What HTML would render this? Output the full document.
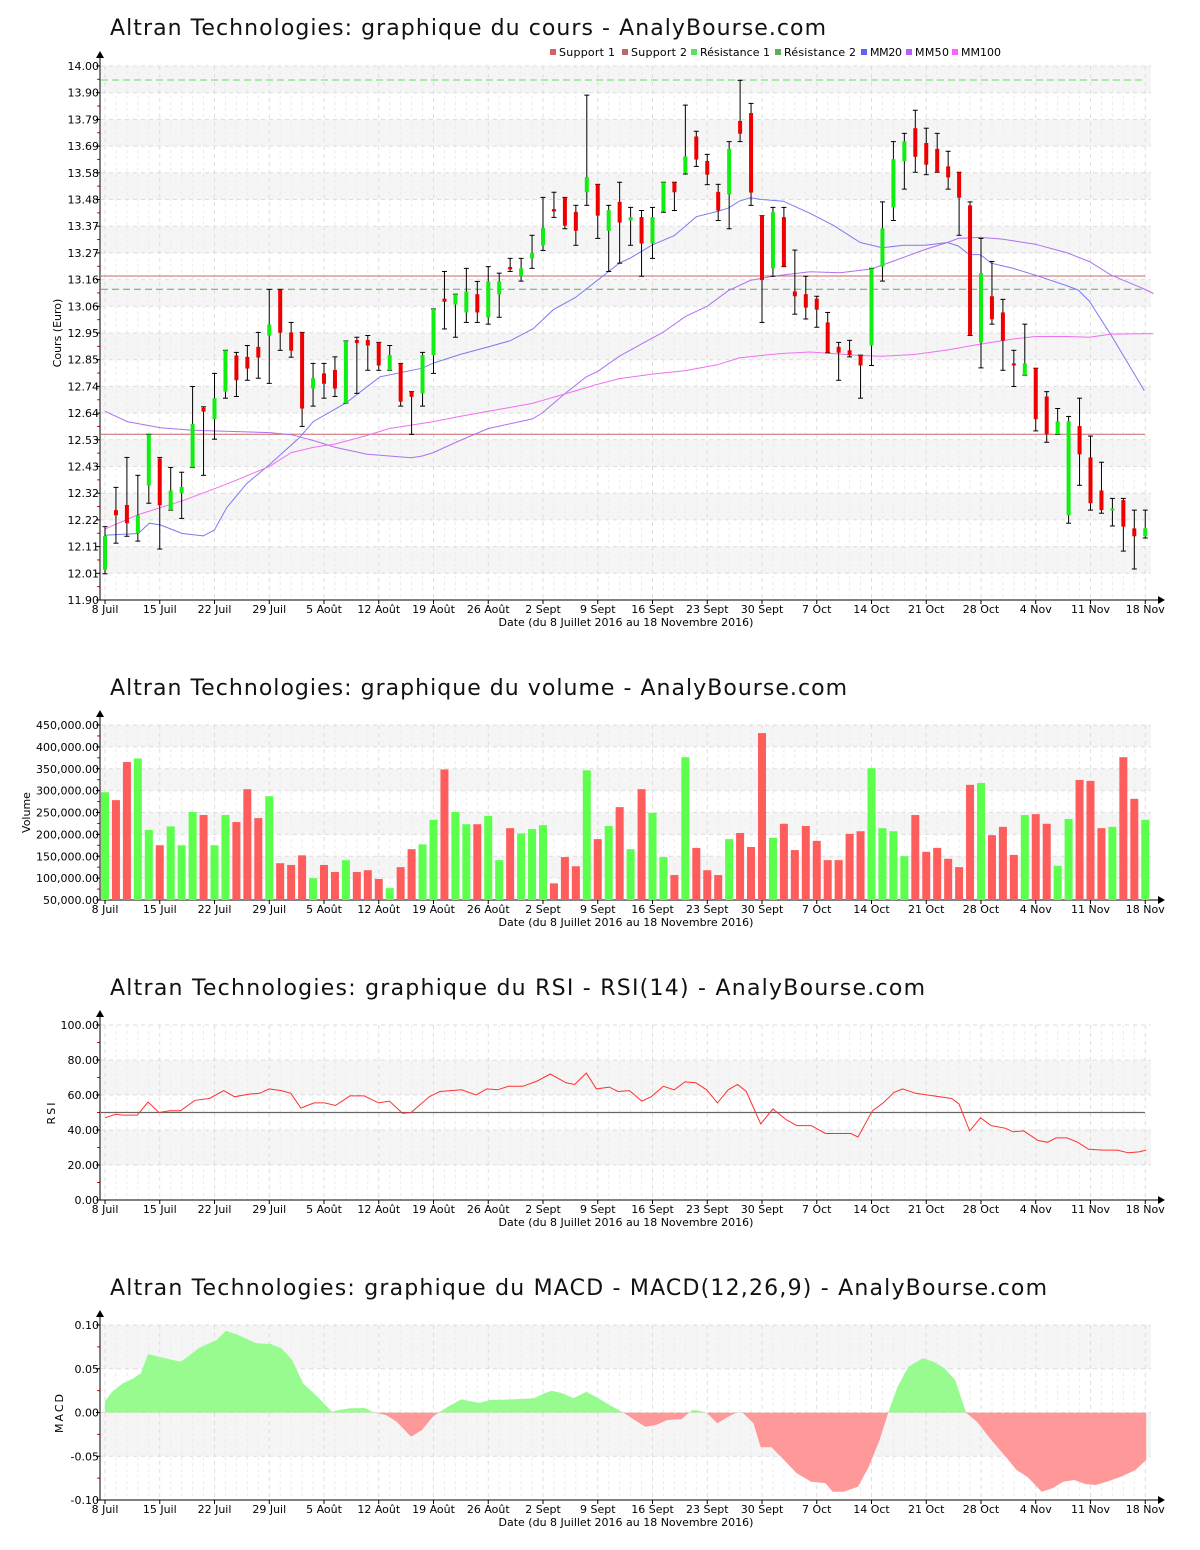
<!DOCTYPE html>
<html><head><meta charset="utf-8"><style>
body{margin:0;background:#fff;}
svg{display:block;font-family:"DejaVu Sans","Liberation Sans",sans-serif;}
</style></head><body>
<svg id="s" width="1200" height="1550" viewBox="0 0 1200 1550" xmlns="http://www.w3.org/2000/svg"></svg>
<script>
const S=document.getElementById('s');let h='';
const X=i=>105+i*10.95;
const weeks=['8 Juil','15 Juil','22 Juil','29 Juil','5 Août','12 Août','19 Août','26 Août','2 Sept','9 Sept','16 Sept','23 Sept','30 Sept','7 Oct','14 Oct','21 Oct','28 Oct','4 Nov','11 Nov','18 Nov'];
function frame(top,bot,labels,shadeFn,title,titleY,ylab,ylabX,tl){
  h+=`<text x="110" y="${titleY}" font-size="22" textLength="${tl}" fill="#111">${title}</text>`;
  const n=labels.length-1,step=(bot-top)/n;
  for(let k=0;k<n;k++){if(shadeFn(k))h+=`<rect x="101" y="${top+k*step}" width="1050" height="${step}" fill="#f5f5f5"/>`;}
  // minor vertical
  for(let i=0;i<96;i++){if(i%5)h+=`<line x1="${X(i)}" y1="${top}" x2="${X(i)}" y2="${bot}" stroke="#ececec" stroke-dasharray="3,3"/>`;}
  for(let k=0;k<20;k++){const x=105+k*54.75;h+=`<line x1="${x}" y1="${top}" x2="${x}" y2="${bot}" stroke="#ddd" stroke-dasharray="4,4"/>`;
    h+=`<line x1="${x}" y1="${bot}" x2="${x}" y2="${bot+4}" stroke="#000"/>`;
    h+=`<text x="${x}" y="${bot+13}" font-size="11" text-anchor="middle">${weeks[k]}</text>`;}
  for(let k=0;k<=n;k++){const y=top+k*step;h+=`<line x1="101" y1="${y}" x2="1151" y2="${y}" stroke="#ddd" stroke-dasharray="4,4"/>`;
    h+=`<line x1="96" y1="${y}" x2="100" y2="${y}" stroke="#000"/>`;
    h+=`<text x="99" y="${y+4}" font-size="11" text-anchor="end">${labels[k]}</text>`;
    if(k<n)h+=`<line x1="97" y1="${y+step/2}" x2="100" y2="${y+step/2}" stroke="#e00"/>`;}
  h+=`<line x1="100" y1="${top-8}" x2="100" y2="${bot}" stroke="#000"/><polygon points="96,${top-8} 104,${top-8} 100,${top-15}" fill="#000"/>`;
  h+=`<line x1="100" y1="${bot}" x2="1158" y2="${bot}" stroke="#000"/><polygon points="1158,${bot-4} 1158,${bot+4} 1165,${bot}" fill="#000"/>`;
  h+=`<text x="626" y="${bot+26}" font-size="11" text-anchor="middle">Date (du 8 Juillet 2016 au 18 Novembre 2016)</text>`;
  const cy=(top+bot)/2;h+=`<text x="${ylabX}" y="${cy}" font-size="11" text-anchor="middle" transform="rotate(-90 ${ylabX} ${cy})" letter-spacing="${ylab.length<5?2:0}">${ylab}</text>`;
}
// PRICE
const pl=['14.00','13.90','13.79','13.69','13.58','13.48','13.37','13.27','13.16','13.06','12.95','12.85','12.74','12.64','12.53','12.43','12.32','12.22','12.11','12.01','11.90'];
frame(66,600,pl,k=>k%2==0,'Altran Technologies: graphique du cours - AnalyBourse.com',35,'Cours (Euro)',61,716);
// legend
const lg=[[550,'#d96060','Support 1',56],[622,'#b86a6a','Support 2',56],[691,'#5fdf5f','Résistance 1',70],[775,'#5fae5f','Résistance 2',72],[861,'#6060ff','MM20',32],[906,'#b060ff','MM50',34],[952,'#ff60ff','MM100',40]];
lg.forEach(l=>{h+=`<rect x="${l[0]}" y="49" width="6" height="6" fill="${l[1]}"/><text x="${l[0]+9}" y="56" font-size="11" textLength="${l[3]}">${l[2]}</text>`;});
h+=`<line x1="101" y1="80" x2="1145" y2="80" stroke="#66dd66" stroke-dasharray="7,4"/>`;
h+=`<line x1="101" y1="289.3" x2="1145" y2="289.3" stroke="#66aa66" stroke-dasharray="7,4"/>`;
h+=`<line x1="101" y1="276" x2="1145" y2="276" stroke="#cc6666"/>`;
h+=`<line x1="101" y1="434.3" x2="1145" y2="434.3" stroke="#cc6666"/>`;
const zy=z=>60+z/2.9037;
function ma(parts,col){let p=[];parts.forEach(([ox,pts])=>pts.forEach(([a,b])=>p.push((ox+a/3).toFixed(1)+','+zy(b).toFixed(1))));h+=`<polyline points="${p.join(' ')}" fill="none" stroke="${col}" stroke-width="1"/>`;}
ma([[100,[[15,1380],[115,1375],[148,1345],[181,1350],[247,1375],[310,1382],[343,1365],[380,1300],[440,1230],[508,1175],[600,1095],[640,1050],[739,995],[840,920],[967,895],[1000,880],[1080,855]]],[450,[[115,833],[181,815],[250,780],[310,725],[376,690],[442,640],[508,590],[541,575],[607,537],[673,510],[739,455],[802,440],[835,430],[868,410],[901,400],[934,405],[1000,410],[1080,445]]],[800,[[100,480],[181,530],[247,545],[310,538],[376,538],[442,530],[475,540],[508,565],[541,565],[574,590],[640,605],[706,625],[800,655],[835,668],[868,700],[934,800],[1033,960]]]],'#7b7bf0');
ma([[100,[[15,1020],[82,1050],[181,1068],[277,1075],[376,1078],[508,1082],[574,1088],[640,1105],[706,1125],[802,1145],[868,1150],[934,1155],[967,1150],[1000,1140],[1080,1105]]],[450,[[115,1070],[247,1042],[277,1025],[343,970],[409,920],[442,905],[508,860],[574,825],[640,790],[706,745],[772,715],[835,670],[901,640],[967,628],[1080,615]]],[800,[[120,618],[214,607],[277,585],[376,550],[442,530],[475,518],[541,515],[607,520],[706,535],[802,560],[868,585],[934,625],[1033,665],[1060,678]]]],'#b070f0');
ma([[100,[[15,1362],[115,1320],[181,1300],[247,1280],[343,1245],[409,1220],[508,1180],[574,1140],[640,1125],[706,1115],[802,1090],[868,1070],[934,1060],[1000,1050],[1080,1035]]],[450,[[115,1020],[247,997],[343,970],[442,942],[508,925],[607,912],[706,902],[802,885],[868,865],[934,858],[1000,852],[1080,848]]],[800,[[181,858],[247,860],[343,855],[442,842],[541,825],[640,810],[706,803],[802,803],[868,805],[934,796],[1033,795],[1060,795]]]],'#f070f0');
// candles [color, bodyTop, bodyBot, high, low] zoom coords
const C=`G1382,1480,1355,1492;R1307,1322,1241,1403;R1292,1345,1154,1383;G1322,1375,1206,1397;G1087,1236,1087,1287;R1157,1293,1154,1420;G1250,1307,1183,1307;G1240,1258,1197,1331;G1057,1183,948,1183;R1010,1021,1007,1206;G982,1043,910,1101;G843,963,843,982;R858,930,849,977;R862,896,829,930;R833,864,791,924;G768,800,666,939;R666,792,666,843;R791,844,762,863;R791,1012,791,1064;G924,954,881,1005;R910,940,881,982;R900,954,862,977;G816,996,816,996;R813,822,805,968;R813,829,800,901;R820,887,820,901;G857,901,829,901;R881,992,881,1005;R963,978,963,1087;G857,968,849,1005;G723,857,723,910;R693,702,614,781;G680,710,680,805;G672,733,605,762;R680,733,643,762;G643,748,600,767;G643,680,619,747;R601,608,576,614;G605,628,576,642;G560,576,509,605;G488,538,399,553;R433,440,384,457;R399,481,399,490;R441,496,422,538;G340,384,102,422;R361,452,361,518;G436,496,422,614;R412,472,355,590;G456,466,428,538;R456,533,437,628;G456,533,428,576;G355,440,355,442;R355,384,355,437;G280,328,131,331;R222,289,207,309;R293,333,274,362;R383,437,361,466;G258,390,237,490;R177,214,59,237;R154,385,126,422;R452,639,452,762;G442,605,428,628;R456,600,428,600;R672,686,552,738;R680,719,628,752;R693,725,686,776;R762,850,733,850;R833,850,820,930;R843,857,814,862;R857,887,857,982;G605,829,605,887;G489,600,412,642;G288,428,237,466;G236,294,213,375;R198,281,146,326;R241,304,198,333;R258,326,213,326;R309,341,265,375;R326,400,326,509;R422,800,412,800;G619,820,518,894;R686,753,585,767;R733,815,695,901;R881,887,843,948;G881,915,767,915;R895,1043,895,1077;R977,1087,963,1110;G1049,1087,1012,1087;G1049,1322,1035,1345;R1063,1145,982,1235;R1154,1287,1092,1307;R1250,1307,1168,1316;G1302,1307,1273,1353;R1278,1355,1273,1426;R1360,1383,1307,1478;G1360,1383,1307,1388`.split(';');
const cols=[];
C.forEach((s,i)=>{const c=s[0];cols.push(c);const [a,b,hi,lo]=s.slice(1).split(',').map(Number).map(zy);const x=X(i);
 h+=`<line x1="${x}" y1="${hi}" x2="${x}" y2="${lo}" stroke="#000"/><line x1="${x-2.5}" y1="${hi}" x2="${x+2.5}" y2="${hi}" stroke="#000"/><line x1="${x-2.5}" y1="${lo}" x2="${x+2.5}" y2="${lo}" stroke="#000"/>`;
 h+=`<rect x="${x-2}" y="${a}" width="4" height="${Math.max(b-a,2)}" fill="${c=='G'?'#11ee11':'#ee0000'}"/>`;});
// VOLUME
const vl=['450,000.00','400,000.00','350,000.00','300,000.00','250,000.00','200,000.00','150,000.00','100,000.00','50,000.00'];
frame(725,900,vl,k=>k%2==0,'Altran Technologies: graphique du volume - AnalyBourse.com',695,'Volume',30,737);
const V=[296,278,365,373,210,175,218,175,251,244,175,244,228,303,237,287,134,130,152,100,130,114,141,114,118,98,77,125,166,177,233,348,251,223,223,242,141,214,202,212,221,88,148,127,346,189,219,262,166,303,249,148,107,376,169,118,107,189,203,171,431,192,224,164,219,185,141,141,201,207,351,214,207,150,244,160,169,144,125,313,317,198,217,153,244,246,224,128,235,324,322,214,217,376,281,233];
V.forEach((v,i)=>{const t=900-(v-50)/50*21.9;h+=`<rect x="${X(i)-4}" y="${t}" width="8" height="${900-t}" fill="${cols[i]=='G'?'#5cff4c':'#ff5c5c'}"/>`;});
// RSI
frame(1025,1200,['100.00','80.00','60.00','40.00','20.00','0.00'],k=>k==1||k==3,'Altran Technologies: graphique du RSI - RSI(14) - AnalyBourse.com',995,'RSI',55,815);
h+=`<line x1="101" y1="1112.5" x2="1145" y2="1112.5" stroke="#666" stroke-width="1.2"/>`;
const R=[[90,47],[105,49],[115,48.5],[135,48.5],[150,56],[165,50],[180,51],[195,51],[215,57],[235,58],[255,62.5],[270,59],[290,60.5],[305,61],[318,63.5],[335,62.5],[348,61],[362,52.5],[380,55.5],[395,55.5],[410,54],[430,59.5],[450,59.5],[470,55.5],[485,56.5],[503,49.5],[515,50],[540,59],[555,62],[570,62.5],[585,63],[605,60],[620,63.5],[635,63],[650,65],[670,65],[690,68],[708,72],[730,67],[742,66],[758,72.5],[772,63.5],[790,64.5],[802,62],[818,62.5],[835,56.5],[848,59],[865,65],[880,63],[895,67.5],[910,67],[925,63],[940,55.5],[955,63],[968,66],[980,62],[1000,43.5],[1017,52],[1035,46],[1050,42.5],[1070,42.5],[1090,38],[1125,38],[1135,36],[1155,51],[1170,55.5],[1185,61.5],[1197,63.5],[1215,61],[1240,59.5],[1265,58],[1275,55],[1290,39.5],[1305,47],[1320,42.5],[1340,41],[1350,39],[1365,39.5],[1385,34],[1398,33],[1410,35.5],[1425,35.5],[1440,33],[1455,29],[1475,28.5],[1495,28.5],[1510,27],[1525,27.5],[1535,28.5]];
h+=`<polyline fill="none" stroke="#ff3030" stroke-width="1" points="${R.map(([a,v])=>(40+a/1.3876).toFixed(1)+','+(1200-v*1.75).toFixed(1)).join(' ')}"/>`;
// MACD
frame(1325,1500,['0.10','0.05','0.00','-0.05','-0.10'],k=>k==0||k==2,'Altran Technologies: graphique du MACD - MACD(12,26,9) - AnalyBourse.com',1295,'MACD',63,937);
const M=[[90,275],[100,245],[115,220],[130,205],[140,190],[150,132],[165,140],[180,148],[195,155],[205,140],[220,115],[235,100],[245,90],[258,62],[275,75],[300,100],[320,102],[335,115],[350,150],[365,220],[385,260],[405,305],[415,300],[430,295],[450,294],[465,308],[480,315],[495,335],[515,380],[530,360],[545,320],[555,305],[570,285],[585,268],[600,275],[610,278],[625,270],[660,268],[685,265],[700,250],[710,242],[725,250],[740,265],[758,245],[775,265],[790,285],[810,308],[825,330],[840,350],[855,345],[870,330],[890,328],[905,300],[915,302],[925,308],[940,340],[955,320],[968,306],[975,308],[990,340],[1000,412],[1015,412],[1030,445],[1050,490],[1070,515],[1090,520],[1100,545],[1115,545],[1135,530],[1150,470],[1165,390],[1177,308],[1190,230],[1205,170],[1225,145],[1240,155],[1255,175],[1270,210],[1285,308],[1300,335],[1320,390],[1340,440],[1355,480],[1370,500],[1390,545],[1405,535],[1420,515],[1435,510],[1450,522],[1465,525],[1480,515],[1500,500],[1520,480],[1535,450]];
const z0=1310+308/3;
const mp=M.map(([a,b])=>(40+a/1.3876).toFixed(1)+','+(1310+b/3).toFixed(1)).join(' ');
const x0=(40+90/1.3876).toFixed(1),x1=(40+1535/1.3876).toFixed(1);
h+=`<defs><clipPath id="up"><rect x="0" y="0" width="1200" height="${z0}"/></clipPath><clipPath id="dn"><rect x="0" y="${z0}" width="1200" height="200"/></clipPath></defs>`;
const poly=`${x0},${z0} ${mp} ${x1},${z0}`;
h+=`<polygon points="${poly}" fill="#98fb90" clip-path="url(#up)"/><polygon points="${poly}" fill="#ff9898" clip-path="url(#dn)"/>`;
S.innerHTML=h;
</script>
</body></html>
